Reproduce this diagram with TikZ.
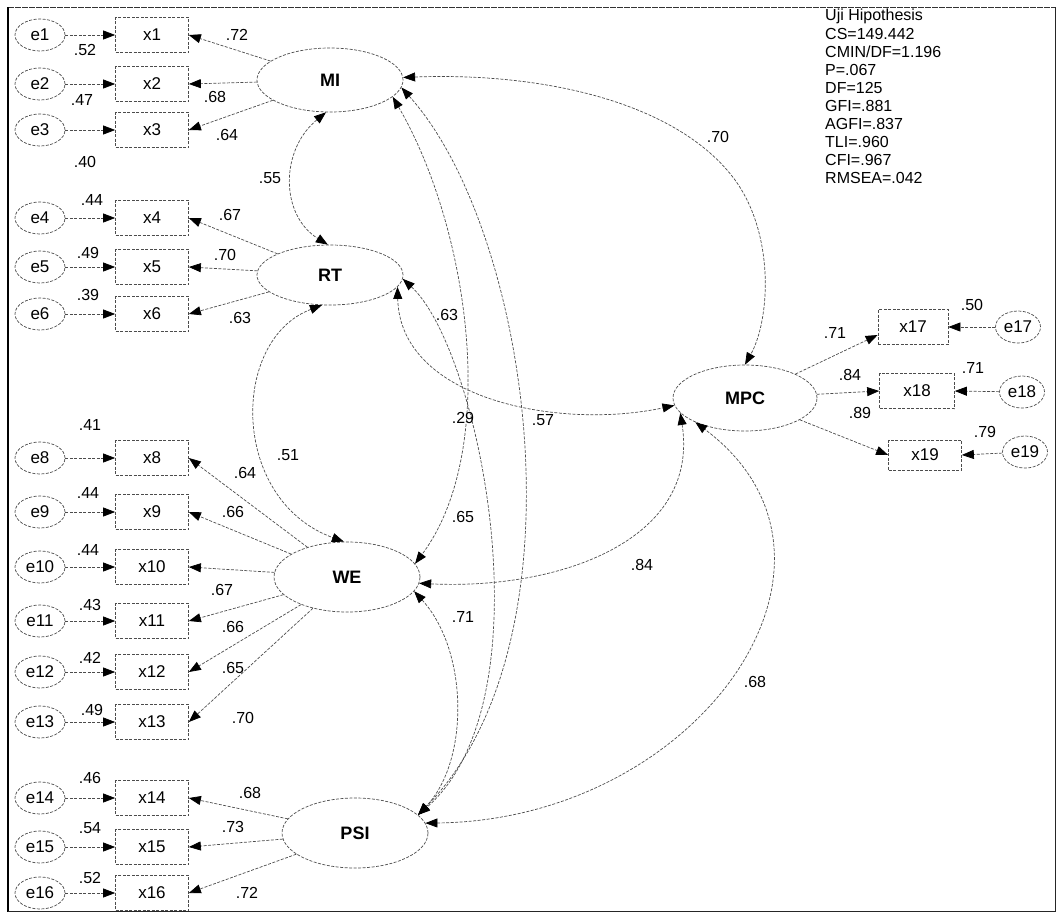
\documentclass[tikz,border=0pt]{standalone}
\usepackage{fontspec}
\setmainfont{Liberation Sans}
\usetikzlibrary{arrows.meta,shapes.geometric}
\begin{document}
\begin{tikzpicture}[x=1pt,y=-1pt,
  ln/.style={draw=black!70, line width=0.7pt, dash pattern=on 3pt off 1.5pt},
  obs/.style={ln, rectangle, minimum width=73pt, minimum height=35pt, inner sep=0pt, font=\fontsize{17}{17}\selectfont},
  err/.style={ln, ellipse, minimum width=50pt, minimum height=32pt, inner sep=0pt, font=\fontsize{17}{17}\selectfont},
  lat/.style={ln, ellipse, minimum width=146pt, minimum height=66pt, inner sep=0pt, font=\fontsize{18}{18}\selectfont\bfseries},
  lab/.style={font=\fontsize{16}{16}\selectfont, inner sep=0pt},
  stat/.style={font=\fontsize{16}{16}\selectfont, inner sep=0pt, anchor=west},
  arr/.style={ln, -{Triangle[length=12pt,width=9pt,color=black]}},
  cov/.style={ln, {Triangle[length=12pt,width=9pt,color=black]}-{Triangle[length=12pt,width=9pt,color=black]}},
]
\useasboundingbox (0,0) rectangle (1060,913);
\draw[line width=0.8pt, black!80, dash pattern=on 6pt off 1pt] (8,7) -- (1055,7);
\draw[line width=1.3pt, black] (8,7) -- (8,911.5);
\draw[line width=1pt, black!85] (1055,7) -- (1055,911.5) -- (8,911.5);

% latent variables
\node[lat, minimum height=64pt] (MI) at (330,80) {MI};
\node[lat, minimum height=60pt] (RT) at (330,275) {RT};
\node[lat, minimum height=70pt] (WE) at (347,577) {WE};
\node[lat, minimum height=70pt] (PSI) at (355,833) {PSI};
\node[lat, minimum width=144pt] (MPC) at (745,398) {MPC};

% observed indicators and errors (left)
\foreach \n/\y in {1/35,2/84,3/130,4/218,5/267,6/314,8/458,9/512,10/567,11/621,12/672,13/722,14/798,15/847,16/893}{
  \node[obs] (x\n) at (152,\y) {x\n};
  \node[err] (e\n) at (40,\y) {e\n};
  \draw[arr] (e\n) -- (x\n.west);
}
% right indicators
\node[obs, minimum width=70pt] (x17) at (913,327) {x17};
\node[obs, minimum width=75pt] (x18) at (917,391) {x18};
\node[obs, minimum width=73pt, minimum height=30pt] (x19) at (925,455) {x19};
\node[err, minimum width=45pt] (e17) at (1018,327) {e17};
\node[err, minimum width=45pt] (e18) at (1022,392) {e18};
\node[err, minimum width=45pt] (e19) at (1025,452) {e19};
\draw[arr] (e17) -- (x17.east);
\draw[arr] (e18) -- (x18.east);
\draw[arr] (e19) -- (x19.east);

% loadings
\foreach \n in {1,2,3}{\draw[arr] (MI) -- (x\n.east);}
\foreach \n in {4,5,6}{\draw[arr] (RT) -- (x\n.east);}
\foreach \n in {8,9,10,11,12,13}{\draw[arr] (WE) -- (x\n.east);}
\foreach \n in {14,15,16}{\draw[arr] (PSI) -- (x\n.east);}
\draw[arr] (MPC) -- ([yshift=-8pt]x17.west);
\draw[arr] (MPC) -- (x18.west);
\draw[arr] (MPC) -- (x19.west);

% covariances
\draw[cov] (MI.-97) .. controls (280,150) and (280,215) .. (RT.94);
\draw[cov] (RT.-105) .. controls (230,340) and (230,500) .. (WE.95);
\draw[cov] (MI.2) .. controls (550,72) and (680,105) .. (735,180) .. controls (775,235) and (770,320) .. (MPC.90);
\draw[cov] (RT.-10) .. controls (400,400) and (560,430) .. (MPC.186);
\draw[cov] (RT.-3) .. controls (480,350) and (550,700) .. (PSI.16);
\draw[cov] (MI.-15) .. controls (470,230) and (500,450) .. (WE.11);
\draw[cov] (MI.-6) .. controls (530,230) and (590,640) .. (PSI.16);
\draw[cov] (WE.-12) .. controls (468,650) and (470,760) .. (PSI.16);
\draw[cov] (WE.-5) .. controls (560,590) and (700,540) .. (MPC.193);
\draw[cov] (PSI.8) .. controls (700,820) and (880,560) .. (MPC.206);

% squared multiple correlations
\node[lab] (r1) at (85,50) {.52};
\node[lab] (r2) at (82,100) {.47};
\node[lab] (r3) at (85,162) {.40};
\node[lab] (r4) at (92,200) {.44};
\node[lab] (r5) at (88,253) {.49};
\node[lab] (r6) at (88,295) {.39};
\node[lab] (r8) at (90,425) {.41};
\node[lab] (r9) at (88,493) {.44};
\node[lab] (r10) at (88,550) {.44};
\node[lab] (r11) at (90,605) {.43};
\node[lab] (r12) at (90,658) {.42};
\node[lab] (r13) at (92,710) {.49};
\node[lab] (r14) at (90,778) {.46};
\node[lab] (r15) at (90,828) {.54};
\node[lab] (r16) at (90,878) {.52};
\node[lab] (r17) at (972,305) {.50};
\node[lab] (r18) at (973,368) {.71};
\node[lab] (r19) at (985,432) {.79};

% loading labels
\node[lab] (l1) at (237,35) {.72};
\node[lab] (l2) at (215,97) {.68};
\node[lab] (l3) at (227,135) {.64};
\node[lab] (l4) at (230,215) {.67};
\node[lab] (l5) at (225,255) {.70};
\node[lab] (l6) at (240,318) {.63};
\node[lab] (l8) at (245,473) {.64};
\node[lab] (l9) at (233,512) {.66};
\node[lab] (l10) at (222,590) {.67};
\node[lab] (l11) at (233,627) {.66};
\node[lab] (l12) at (233,668) {.65};
\node[lab] (l13) at (243,718) {.70};
\node[lab] (l14) at (250,793) {.68};
\node[lab] (l15) at (233,827) {.73};
\node[lab] (l16) at (247,893) {.72};
\node[lab] (l17) at (835,333) {.71};
\node[lab] (l18) at (850,375) {.84};
\node[lab] (l19) at (860,413) {.89};

% covariance labels
\node[lab] (c1) at (270,178) {.55};
\node[lab] (c2) at (288,455) {.51};
\node[lab] (c3) at (718,137) {.70};
\node[lab] (c4) at (447,315) {.63};
\node[lab] (c5) at (463,418) {.29};
\node[lab] (c6) at (543,420) {.57};
\node[lab] (c7) at (463,517) {.65};
\node[lab] (c8) at (642,565) {.84};
\node[lab] (c9) at (463,617) {.71};
\node[lab] (c10) at (755,682) {.68};

% fit statistics
\node[stat] (s1) at (825,16) {Uji Hipothesis};
\node[stat] (s2) at (825,34) {CS=149.442};
\node[stat] (s3) at (825,52) {CMIN/DF=1.196};
\node[stat] (s4) at (825,70) {P=.067};
\node[stat] (s5) at (825,88) {DF=125};
\node[stat] (s6) at (825,106) {GFI=.881};
\node[stat] (s7) at (825,124) {AGFI=.837};
\node[stat] (s8) at (825,142) {TLI=.960};
\node[stat] (s9) at (825,160) {CFI=.967};
\node[stat] (s10) at (825,178) {RMSEA=.042};
\end{tikzpicture}
\end{document}
